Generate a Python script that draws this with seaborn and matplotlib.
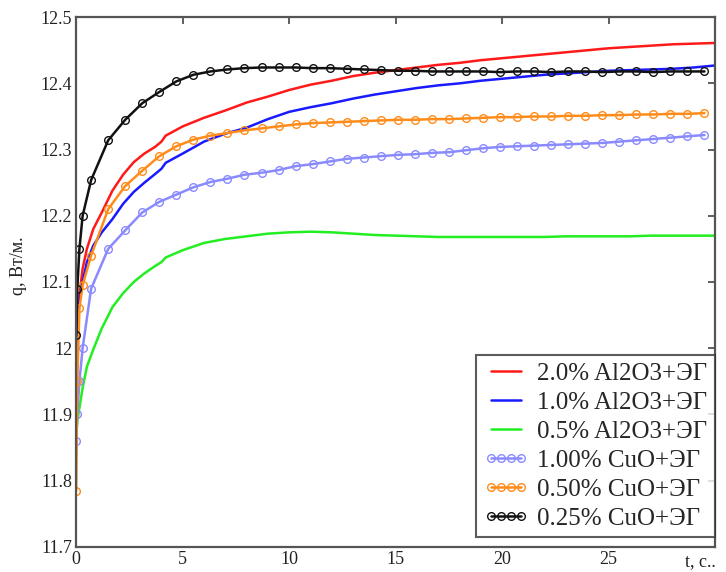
import numpy as np
import pandas as pd
import seaborn as sns
import matplotlib.pyplot as plt

# --- data ---
t_al = [0, 0.05, 0.15, 0.3, 0.5, 0.8, 1.2, 1.7, 2.2, 2.7, 3.2, 3.7, 4.0, 4.2, 5.0, 6.0, 7.0, 8.0, 9.0, 10.0,
        11.0, 12.0, 13.0, 14.0, 15.0, 16.0, 17.0, 18.0, 19.0, 20.0, 21.0, 22.0, 23.0, 24.0, 25.0, 26.0, 27.0,
        28.0, 29.0, 30.0]
q_al_20 = [12.03, 12.06, 12.08, 12.12, 12.15, 12.18, 12.205, 12.238, 12.262, 12.281, 12.294, 12.304, 12.312,
           12.321, 12.335, 12.348, 12.359, 12.371, 12.380, 12.390, 12.398, 12.404, 12.411, 12.416, 12.420,
           12.424, 12.428, 12.431, 12.435, 12.438, 12.441, 12.444, 12.447, 12.450, 12.453, 12.455, 12.457,
           12.459, 12.460, 12.461]
q_al_10 = [12.0, 12.04, 12.07, 12.1, 12.13, 12.155, 12.175, 12.195, 12.218, 12.236, 12.25, 12.263, 12.271,
           12.28, 12.294, 12.312, 12.324, 12.333, 12.346, 12.357, 12.364, 12.370, 12.377, 12.383, 12.388,
           12.393, 12.397, 12.400, 12.404, 12.407, 12.410, 12.413, 12.415, 12.417, 12.419, 12.420, 12.421,
           12.422, 12.424, 12.427]
q_al_05 = [11.87, 11.89, 11.91, 11.94, 11.972, 11.998, 12.03, 12.062, 12.083, 12.1, 12.113, 12.124, 12.13,
           12.137, 12.148, 12.159, 12.165, 12.169, 12.173, 12.175, 12.176, 12.175, 12.173, 12.171, 12.170,
           12.169, 12.168, 12.168, 12.168, 12.168, 12.168, 12.168, 12.169, 12.169, 12.169, 12.169, 12.170,
           12.170, 12.170, 12.170]

t_cuo = [0, 0.05, 0.15, 0.3, 0.7, 1.5, 2.3, 3.1, 3.9, 4.7, 5.5, 6.3, 7.1, 7.9, 8.7, 9.5, 10.3, 11.1, 11.9,
         12.7, 13.5, 14.3, 15.1, 15.9, 16.7, 17.5, 18.3, 19.1, 19.9, 20.7, 21.5, 22.3, 23.1, 23.9, 24.7, 25.5,
         26.3, 27.1, 27.9, 28.7, 29.5]
q_cuo_100 = [11.86, 11.90, 11.95, 12.0, 12.09, 12.15, 12.178, 12.205, 12.221, 12.232, 12.243, 12.251, 12.256,
             12.262, 12.265, 12.269, 12.275, 12.278, 12.282, 12.286, 12.288, 12.290, 12.292, 12.293, 12.295,
             12.296, 12.299, 12.302, 12.304, 12.305, 12.306, 12.307, 12.308, 12.309, 12.310, 12.312, 12.314,
             12.316, 12.318, 12.320, 12.322]
q_cuo_050 = [11.785, 11.95, 12.06, 12.095, 12.14, 12.21, 12.245, 12.268, 12.29, 12.305, 12.315, 12.321,
             12.325, 12.329, 12.332, 12.335, 12.338, 12.340, 12.341, 12.342, 12.343, 12.344, 12.345, 12.345,
             12.346, 12.346, 12.347, 12.348, 12.349, 12.349, 12.350, 12.350, 12.351, 12.351, 12.352, 12.352,
             12.353, 12.353, 12.354, 12.354, 12.355]
q_cuo_025 = [12.02, 12.09, 12.15, 12.2, 12.254, 12.314, 12.345, 12.370, 12.387, 12.403, 12.413, 12.418,
             12.421, 12.423, 12.424, 12.424, 12.424, 12.423, 12.423, 12.422, 12.421, 12.420, 12.419, 12.419,
             12.418, 12.418, 12.418, 12.418, 12.417, 12.418, 12.418, 12.417, 12.418, 12.418, 12.417, 12.418,
             12.418, 12.417, 12.418, 12.418, 12.418]

labels = ['2.0% Al2O3+ЭГ', '1.0% Al2O3+ЭГ', '0.5% Al2O3+ЭГ',
          '1.00% CuO+ЭГ', '0.50% CuO+ЭГ', '0.25% CuO+ЭГ']
colors = ['#ff1a1a', '#1a1aff', '#22ee22', '#8a8aff', '#ff8c1a', '#111111']

x_ticks = [0, 5, 10, 15, 20, 25]
y_ticks = [11.7, 11.8, 11.9, 12, 12.1, 12.2, 12.3, 12.4, 12.5]
y_tick_labels = ['11.7', '11.8', '11.9', '12', '12.1', '12.2', '12.3', '12.4', '12.5']

# --- plot ---
sns.set_style('white')
plt.rcParams['font.family'] = ['Liberation Serif', 'DejaVu Serif']

fig = plt.figure(figsize=(7.26, 5.72), dpi=100)
ax = fig.add_axes([0.105, 0.044, 0.88, 0.926])

series = [(t_al, q_al_20), (t_al, q_al_10), (t_al, q_al_05),
          (t_cuo, q_cuo_100), (t_cuo, q_cuo_050), (t_cuo, q_cuo_025)]
for i, ((t, q), lab, c) in enumerate(zip(series, labels, colors)):
    df = pd.DataFrame({'t': t, 'q': q})
    if i < 3:
        sns.lineplot(data=df, x='t', y='q', ax=ax, color=c, label=lab, lw=1.8, sort=False)
    else:
        sns.lineplot(data=df, x='t', y='q', ax=ax, color=c, label=lab, lw=1.8, sort=False,
                     marker='o', markersize=5.5, markerfacecolor='none', markeredgecolor=c,
                     markeredgewidth=1.0)

ax.set_xlim(0, 30)
ax.set_ylim(11.7, 12.5)
ax.set_xticks(x_ticks)
ax.set_xticklabels([str(v) for v in x_ticks])
ax.set_yticks(y_ticks)
ax.set_yticklabels(y_tick_labels)
ax.tick_params(axis='both', direction='in', length=5, width=1.2, color='#444444',
               labelsize=13, labelcolor='#222222', top=True, right=True, pad=3)
ax.set_xlabel('')
ax.set_ylabel('q, Вт/м.', fontsize=13, color='#222222')
ax.yaxis.set_label_coords(-0.077, 0.53)
ax.text(0.977, -0.012, 't, c..', transform=ax.transAxes, ha='center', va='top',
        fontsize=13, color='#222222')
for s in ax.spines.values():
    s.set_color('#555555')
    s.set_linewidth(1.6)

leg = ax.legend(loc='lower right', bbox_to_anchor=(1.0, 0.018), fontsize=18, frameon=True,
                fancybox=False, edgecolor='#333333', handlelength=1.8, borderpad=0.3,
                labelspacing=0.26, handletextpad=0.35, borderaxespad=0, numpoints=4)
leg.get_frame().set_linewidth(1.5)

plt.savefig('out.png', dpi=100)
